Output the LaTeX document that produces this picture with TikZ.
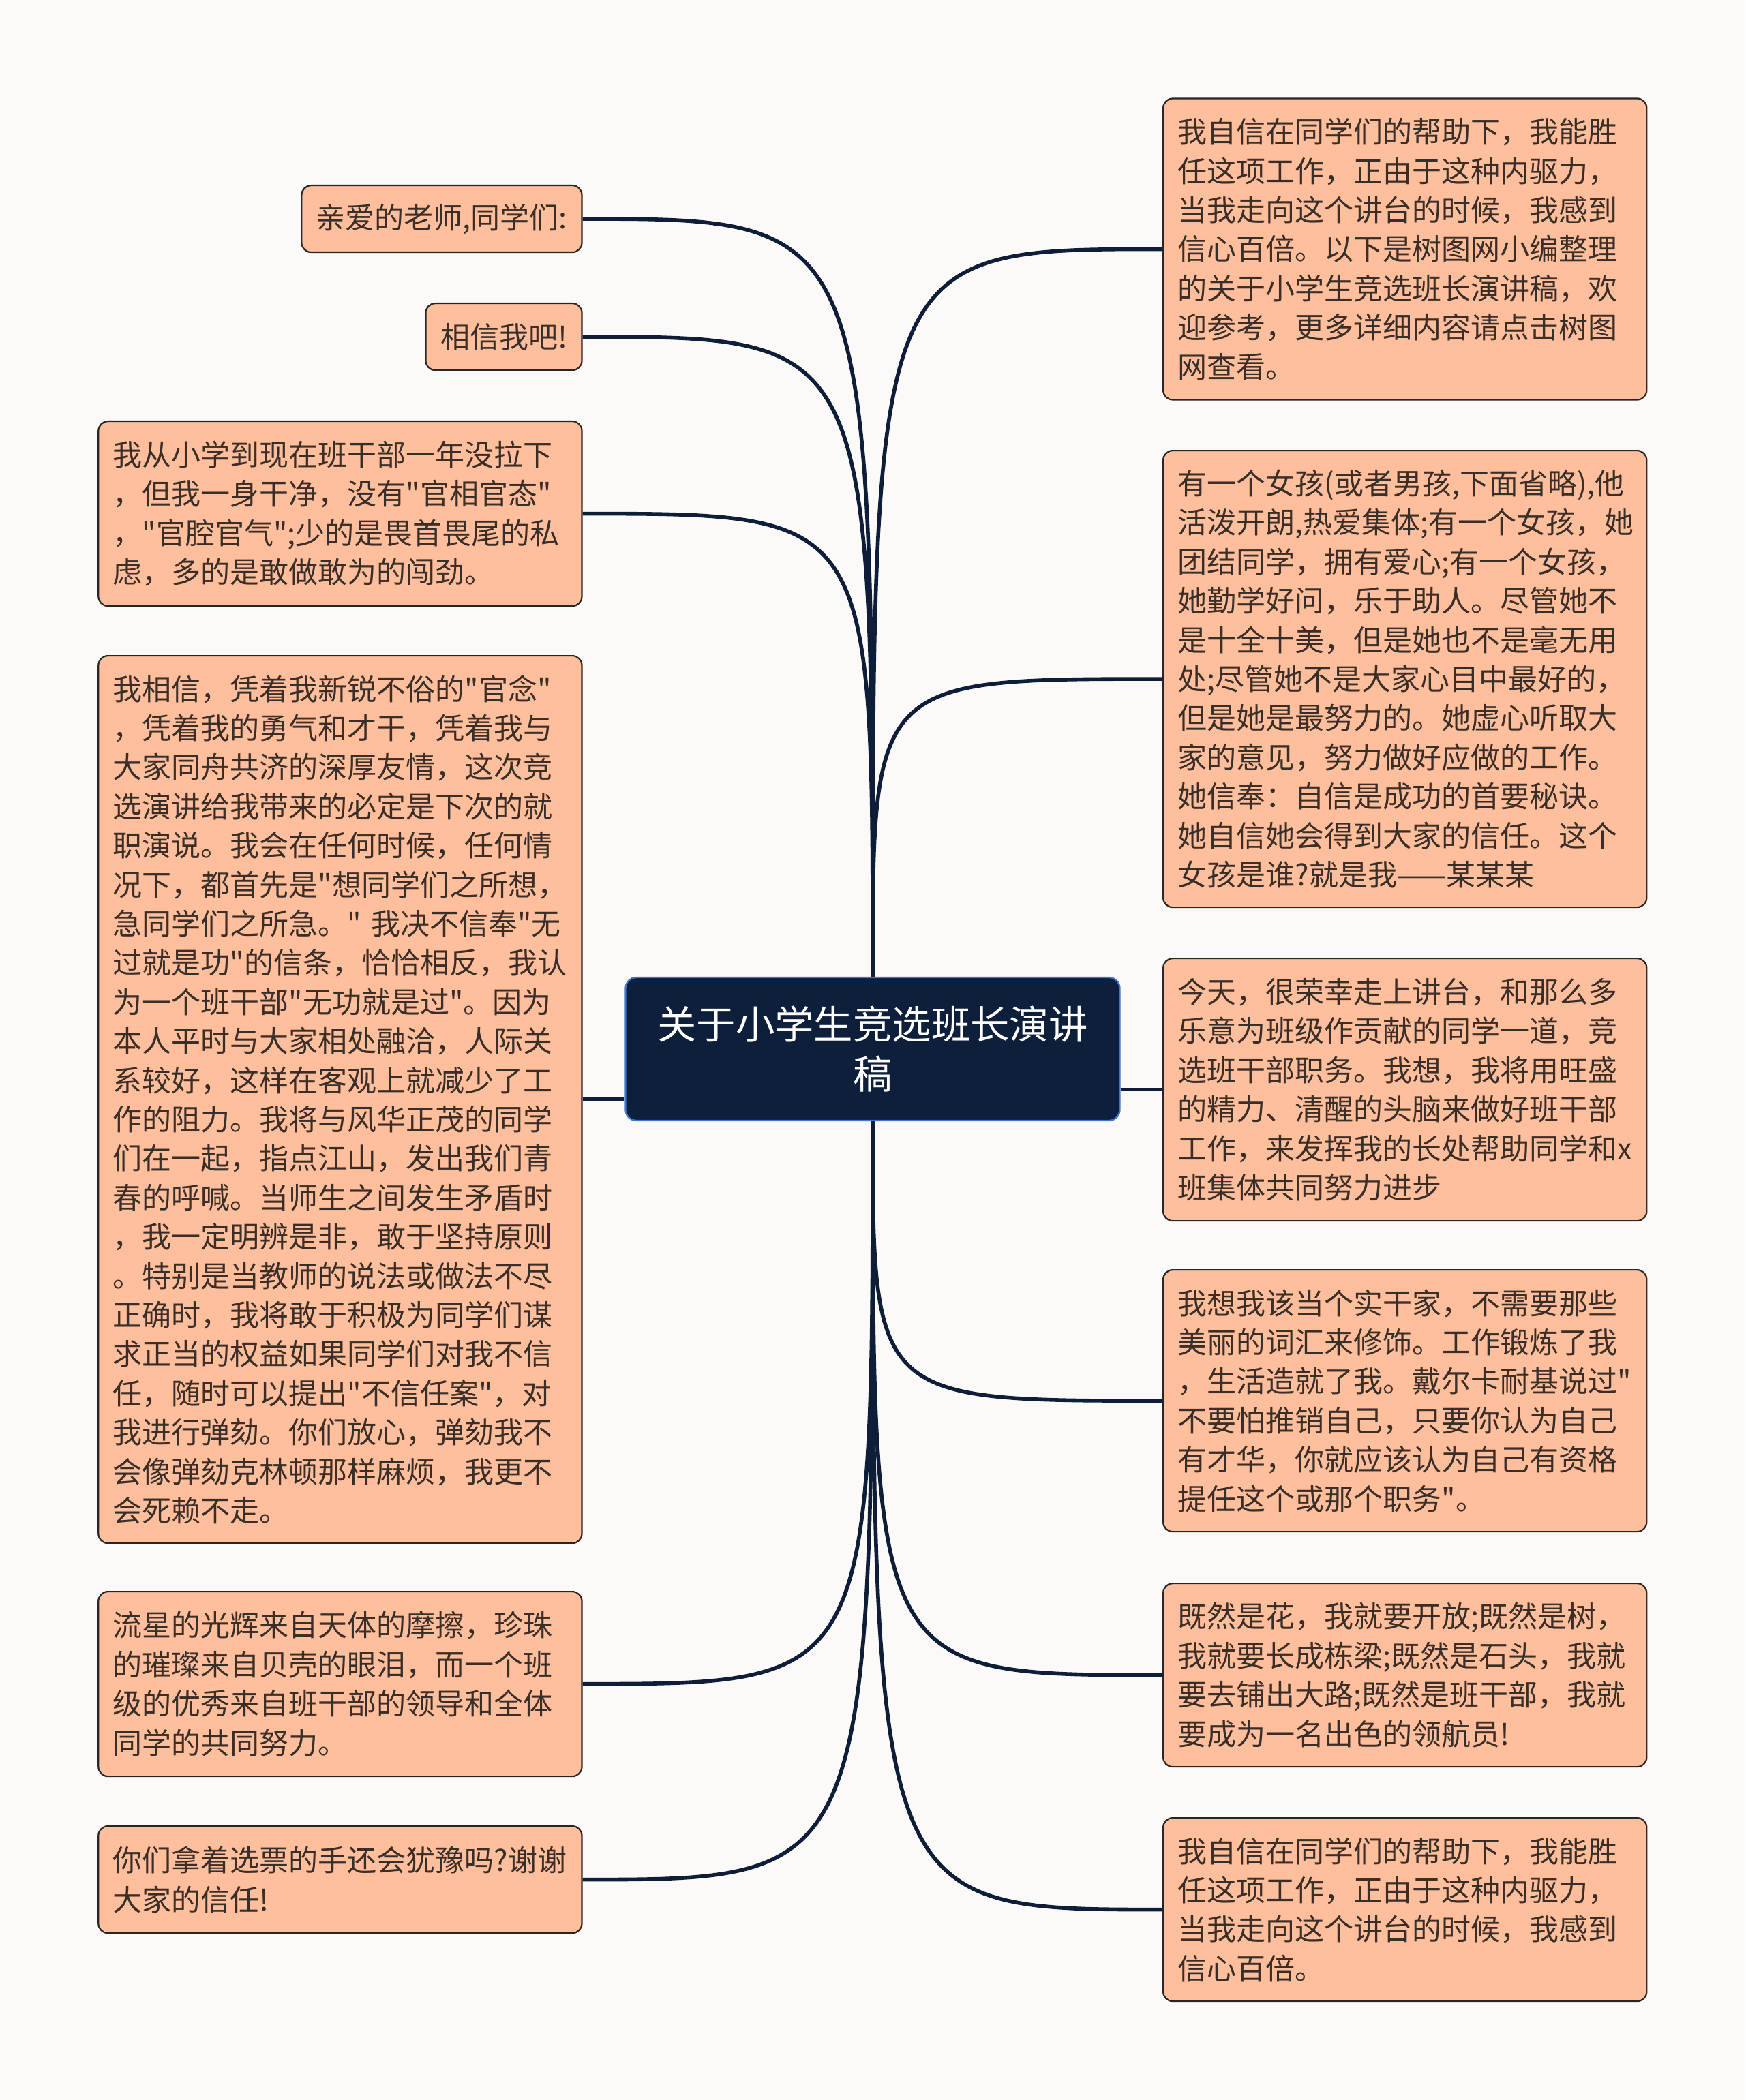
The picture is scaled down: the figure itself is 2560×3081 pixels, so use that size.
\documentclass[tikz,border=0pt]{standalone}
\usepackage{fontspec}
\setmainfont{Noto Sans CJK SC}[Ligatures=TeXOff]
\usetikzlibrary{positioning}

\definecolor{paper}{RGB}{252,250,249}
\definecolor{peach}{RGB}{255,190,156}
\definecolor{ink}{RGB}{58,46,40}
\definecolor{navy}{RGB}{14,31,59}
\definecolor{edgeblue}{RGB}{62,118,206}
\definecolor{wire}{RGB}{15,30,56}

\begin{document}
\begin{tikzpicture}[x=0.5pt, y=-0.5pt]

\tikzset{
  topic/.style={draw=edgeblue, fill=navy, text=white, rounded corners=8pt, line width=1.2pt,
    align=center, minimum width=362.5pt, minimum height=105pt,
    font=\fontsize{28.7}{36.4}\selectfont},
  leaf/.style={draw=black!85, fill=peach, text=ink, rounded corners=7pt, line width=1.1pt,
    align=left, inner xsep=10.8pt, font=\fontsize{21.5}{28.7}\selectfont},
  wide/.style={leaf, text width=333pt},
  link/.style={draw=wire, line width=2.8pt},
}

\fill[paper] (0,0) rectangle (2560,3081);
\useasboundingbox (0,0) rectangle (2560,3081);

\node[topic] (topic) at (1280,1539) {关于小学生竞选班长演讲\\稿};

% left side
\node[leaf, anchor=north east, minimum height=49pt] (l1) at (854.6,271) {亲爱的老师,同学们:};
\node[leaf, anchor=north east, minimum height=49pt] (l2) at (854.6,444) {相信我吧!};
\node[wide, anchor=north east, minimum height=135.5pt] (l3) at (854.6,617) {
  我从小学到现在班干部一年没拉下\\
  ，但我一身干净，没有"官相官态"\\
  ，"官腔官气";少的是畏首畏尾的私\\
  虑，多的是敢做敢为的闯劲。};
\node[wide, anchor=north east, minimum height=651pt] (l4) at (854.6,961) {
  我相信，凭着我新锐不俗的"官念"\\
  ，凭着我的勇气和才干，凭着我与\\
  大家同舟共济的深厚友情，这次竞\\
  选演讲给我带来的必定是下次的就\\
  职演说。我会在任何时候，任何情\\
  况下，都首先是"想同学们之所想，\\
  急同学们之所急。"~我决不信奉"无\\
  过就是功"的信条，恰恰相反，我认\\
  为一个班干部"无功就是过"。因为\\
  本人平时与大家相处融洽，人际关\\
  系较好，这样在客观上就减少了工\\
  作的阻力。我将与风华正茂的同学\\
  们在一起，指点江山，发出我们青\\
  春的呼喊。当师生之间发生矛盾时\\
  ，我一定明辨是非，敢于坚持原则\\
  。特别是当教师的说法或做法不尽\\
  正确时，我将敢于积极为同学们谋\\
  求正当的权益如果同学们对我不信\\
  任，随时可以提出"不信任案"，对\\
  我进行弹劾。你们放心，弹劾我不\\
  会像弹劾克林顿那样麻烦，我更不\\
  会死赖不走。};
\node[wide, anchor=north east, minimum height=135.5pt] (l5) at (854.6,2334) {
  流星的光辉来自天体的摩擦，珍珠\\
  的璀璨来自贝壳的眼泪，而一个班\\
  级的优秀来自班干部的领导和全体\\
  同学的共同努力。};
\node[wide, anchor=north east, minimum height=78.5pt] (l6) at (854.6,2678) {
  你们拿着选票的手还会犹豫吗?谢谢\\
  大家的信任!};

% right side
\node[wide, anchor=north west, minimum height=221pt] (r1) at (1705,143.4) {
  我自信在同学们的帮助下，我能胜\\
  任这项工作，正由于这种内驱力，\\
  当我走向这个讲台的时候，我感到\\
  信心百倍。以下是树图网小编整理\\
  的关于小学生竞选班长演讲稿，欢\\
  迎参考，更多详细内容请点击树图\\
  网查看。};
\node[wide, anchor=north west, minimum height=335pt] (r2) at (1705,660) {
  有一个女孩(或者男孩,下面省略),他\\
  活泼开朗,热爱集体;有一个女孩，她\\
  团结同学，拥有爱心;有一个女孩，\\
  她勤学好问，乐于助人。尽管她不\\
  是十全十美，但是她也不是毫无用\\
  处;尽管她不是大家心目中最好的，\\
  但是她是最努力的。她虚心听取大\\
  家的意见，努力做好应做的工作。\\
  她信奉：自信是成功的首要秘诀。\\
  她自信她会得到大家的信任。这个\\
  女孩是谁?就是我——某某某};
\node[wide, anchor=north west, minimum height=192.5pt] (r3) at (1705,1405) {
  今天，很荣幸走上讲台，和那么多\\
  乐意为班级作贡献的同学一道，竞\\
  选班干部职务。我想，我将用旺盛\\
  的精力、清醒的头脑来做好班干部\\
  工作，来发挥我的长处帮助同学和x\\
  班集体共同努力进步};
\node[wide, anchor=north west, minimum height=192pt] (r4) at (1705,1862) {
  我想我该当个实干家，不需要那些\\
  美丽的词汇来修饰。工作锻炼了我\\
  ，生活造就了我。戴尔卡耐基说过"\\
  不要怕推销自己，只要你认为自己\\
  有才华，你就应该认为自己有资格\\
  提任这个或那个职务"。};
\node[wide, anchor=north west, minimum height=134.5pt] (r5) at (1705,2322) {
  既然是花，我就要开放;既然是树，\\
  我就要长成栋梁;既然是石头，我就\\
  要去铺出大路;既然是班干部，我就\\
  要成为一名出色的领航员!};
\node[wide, anchor=north west, minimum height=134.5pt] (r6) at (1705,2666) {
  我自信在同学们的帮助下，我能胜\\
  任这项工作，正由于这种内驱力，\\
  当我走向这个讲台的时候，我感到\\
  信心百倍。};

% connectors
\draw[link] (topic.north) .. controls (topic.north |- l1.east) .. (l1.east);
\draw[link] (topic.north) .. controls (topic.north |- l2.east) .. (l2.east);
\draw[link] (topic.north) .. controls (topic.north |- l3.east) .. (l3.east);
\draw[link] (topic.west |- l4.east) -- (l4.east);
\draw[link] (topic.south) .. controls (topic.south |- l5.east) .. (l5.east);
\draw[link] (topic.south) .. controls (topic.south |- l6.east) .. (l6.east);
\draw[link] (topic.north) .. controls (topic.north |- r1.west) .. (r1.west);
\draw[link] (topic.north) .. controls (topic.north |- r2.west) .. (r2.west);
\draw[link] (topic.east |- r3.west) -- (r3.west);
\draw[link] (topic.south) .. controls (topic.south |- r4.west) .. (r4.west);
\draw[link] (topic.south) .. controls (topic.south |- r5.west) .. (r5.west);
\draw[link] (topic.south) .. controls (topic.south |- r6.west) .. (r6.west);

\end{tikzpicture}
\end{document}
